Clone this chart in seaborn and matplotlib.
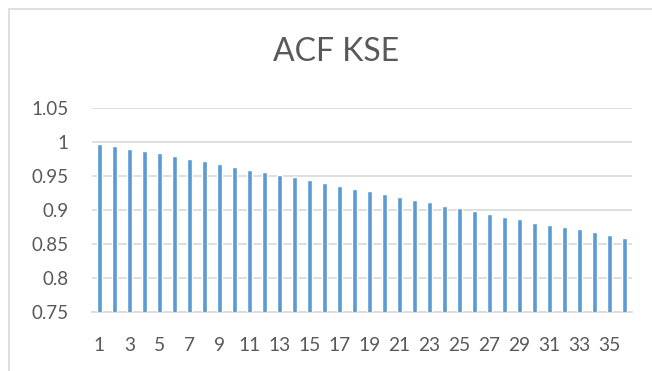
import matplotlib
matplotlib.use("Agg")
import matplotlib.pyplot as plt
import matplotlib.patches as patches
import seaborn as sns
import pandas as pd

# Autocorrelation of the KSE series by lag
lags = list(range(1, 37))
acf_values = [0.997, 0.994, 0.990, 0.987, 0.983, 0.979, 0.975, 0.971, 0.967,
              0.963, 0.959, 0.955, 0.951, 0.948, 0.944, 0.940, 0.935, 0.931,
              0.927, 0.923, 0.919, 0.915, 0.911, 0.906, 0.902, 0.898, 0.894,
              0.889, 0.886, 0.881, 0.877, 0.874, 0.871, 0.867, 0.863, 0.858]
y_ticks = [0.75, 0.8, 0.85, 0.9, 0.95, 1.0, 1.05]
y_tick_labels = ["0.75", "0.8", "0.85", "0.9", "0.95", "1", "1.05"]
title = "ACF KSE"

sns.set_theme(style="white")
plt.rcParams["font.family"] = ["Lato", "DejaVu Sans"]

df = pd.DataFrame({"lag": lags, "acf": acf_values})

fig = plt.figure(figsize=(6.52, 3.71), dpi=100)
ax = fig.add_axes([92 / 652, 1 - 311.7 / 371, 540 / 652, 204 / 371])

sns.barplot(data=df, x="lag", y="acf", color="#5B9BD5", saturation=1,
            width=0.34, ax=ax, zorder=3)

ax.set_ylim(0.75, 1.05)
ax.set_xlim(-0.5, len(lags) - 0.5)
ax.set_yticks(y_ticks)
ax.set_yticklabels(y_tick_labels)
ax.set_xticks(range(0, len(lags), 2))
ax.set_xticklabels([str(l) for l in lags[::2]])

text_color = "#595959"
ax.tick_params(axis="y", length=0, pad=17, labelsize=13.5, labelcolor=text_color)
ax.tick_params(axis="x", length=0, pad=18, labelsize=13.8, labelcolor=text_color)
ax.set_xlabel("")
ax.set_ylabel("")

ax.grid(axis="y", color="#D9D9D9", linewidth=1.2, zorder=0)
ax.grid(axis="x", visible=False)
for side in ["top", "right", "left"]:
    ax.spines[side].set_visible(False)
ax.spines["bottom"].set_color("#D9D9D9")
ax.spines["bottom"].set_linewidth(1.2)

fig.text(336 / 652, 1 - 52 / 371, title, ha="center", va="center",
         fontsize=23, color=text_color)

# Light chart-area frame (left and top edges fall inside the canvas)
frame = patches.Rectangle((8.5 / 652, -0.05), 1.0, 1.05 - 8.5 / 371,
                          transform=fig.transFigure, fill=False,
                          edgecolor="#D9D9D9", linewidth=1.2)
fig.patches.append(frame)

fig.savefig("out.png", dpi=100)
